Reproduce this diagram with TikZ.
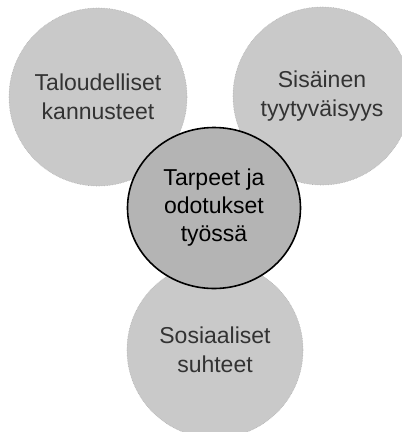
\documentclass[tikz,border=0pt]{standalone}
\usepackage{fontspec}
\setmainfont{Liberation Sans}
\usepackage{tikz}
\usepackage{xcolor}
\usetikzlibrary{shapes.geometric, positioning}
\definecolor{Stipple_Light}{HTML}{C9C9C9}
\definecolor{Stipple_Dark}{HTML}{B4B4B4}
\definecolor{Text_Grey}{HTML}{333333}

\begin{document}
\begin{tikzpicture}[x=1pt, y=-1pt,
    bubble/.style={circle, fill=Stipple_Light, draw=gray!60, densely dotted, line width=0.6pt,
        minimum size=178pt, inner sep=0pt, align=center, text=Text_Grey,
        font=\fontsize{23}{28.5}\selectfont},
    hub/.style={ellipse, fill=Stipple_Dark, draw=black, line width=1.6pt,
        minimum width=173pt, minimum height=161pt, inner sep=0pt, align=center,
        font=\fontsize{23}{28}\selectfont}]
    % Fix the frame
    \useasboundingbox (0,0) rectangle (402,432);
    \clip (0,0) rectangle (402,432);

    % Outer circles
    \node[bubble] (econ) at (98,97) {Taloudelliset\\kannusteet};
    \node[bubble] (inner) at (322,96) {Sisäinen\\tyytyväisyys};
    \node[bubble, minimum size=176pt] (social) at (215,350) {Sosiaaliset\\suhteet};

    % Centre circle on top
    \node[hub] (needs) at (214,208) {Tarpeet ja\\odotukset\\työssä};
\end{tikzpicture}
\end{document}
